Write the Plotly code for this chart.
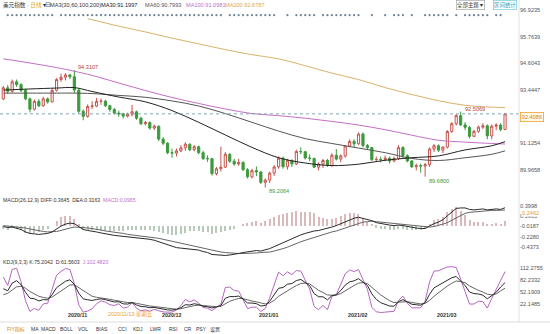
import plotly.graph_objects as go

W, H = 550, 334

# ---------------- data ----------------
dates = ["2020-10-13","2020-10-14","2020-10-15","2020-10-16","2020-10-19","2020-10-20","2020-10-21","2020-10-22","2020-10-23","2020-10-26",
         "2020-10-27","2020-10-28","2020-10-29","2020-10-30","2020-11-02","2020-11-03","2020-11-04","2020-11-05","2020-11-06","2020-11-09",
         "2020-11-10","2020-11-11","2020-11-12","2020-11-13","2020-11-16","2020-11-17","2020-11-18","2020-11-19","2020-11-20","2020-11-23",
         "2020-11-24","2020-11-25","2020-11-26","2020-11-27","2020-11-30","2020-12-01","2020-12-02","2020-12-03","2020-12-04","2020-12-07",
         "2020-12-08","2020-12-09","2020-12-10","2020-12-11","2020-12-14","2020-12-15","2020-12-16","2020-12-17","2020-12-18","2020-12-21",
         "2020-12-22","2020-12-23","2020-12-24","2020-12-28","2020-12-29","2020-12-30","2020-12-31","2021-01-04","2021-01-05","2021-01-06",
         "2021-01-07","2021-01-08","2021-01-11","2021-01-12","2021-01-13","2021-01-14","2021-01-15","2021-01-18","2021-01-19","2021-01-20",
         "2021-01-21","2021-01-22","2021-01-25","2021-01-26","2021-01-27","2021-01-28","2021-01-29","2021-02-01","2021-02-02","2021-02-03",
         "2021-02-04","2021-02-05","2021-02-08","2021-02-09","2021-02-10","2021-02-11","2021-02-12","2021-02-15","2021-02-16","2021-02-17",
         "2021-02-18","2021-02-19","2021-02-22","2021-02-23","2021-02-24","2021-02-25","2021-02-26","2021-03-01","2021-03-02","2021-03-03",
         "2021-03-04","2021-03-05","2021-03-08","2021-03-09","2021-03-10","2021-03-11","2021-03-12","2021-03-15","2021-03-16","2021-03-17",
         "2021-03-18","2021-03-19","2021-03-22","2021-03-23"]

opens = [93.06,93.54,93.39,93.80,93.68,93.43,93.06,92.61,92.95,92.76,
         93.06,92.93,93.43,93.90,94.00,94.10,94.02,93.44,92.52,92.30,
         92.73,92.75,92.95,92.96,92.76,92.60,92.44,92.41,92.31,92.39,
         92.50,92.22,91.98,92.03,91.79,91.87,91.31,91.13,90.72,90.70,
         90.80,90.93,91.09,90.85,90.98,90.72,90.46,90.46,89.81,90.02,
         90.09,90.65,90.35,90.23,90.29,89.98,89.67,89.94,89.88,89.43,
         89.53,89.83,90.10,90.48,90.11,90.39,90.23,90.77,90.76,90.49,
         90.47,90.09,90.23,90.38,90.16,90.61,90.44,90.58,91.01,91.21,
         91.11,91.53,91.03,90.94,90.42,90.43,90.42,90.48,90.36,90.47,
         90.94,90.59,90.36,90.11,90.15,90.14,90.20,90.88,91.02,90.83,
         90.96,91.64,91.98,92.33,91.93,91.82,91.43,91.65,91.83,91.89,
         91.45,91.87,91.92,91.73]
highs = [93.62,93.66,93.90,93.90,93.74,93.50,93.12,93.03,93.05,93.15,
         93.12,93.52,93.96,94.16,94.18,94.14,94.3107,93.52,92.60,92.82,
         92.96,93.10,93.08,93.02,92.80,92.66,92.55,92.45,92.46,92.80,
         92.55,92.28,92.10,92.08,91.95,91.90,91.40,91.18,90.90,90.90,
         91.05,91.17,91.12,91.05,91.02,90.80,90.60,90.50,90.10,90.98,
         90.75,90.70,90.45,90.45,90.35,90.05,90.02,90.12,89.93,89.60,
         89.90,90.18,90.56,90.55,90.45,90.42,90.85,90.95,90.80,90.65,
         90.50,90.30,90.45,90.45,90.70,90.88,90.65,91.05,91.30,91.30,
         91.60,91.60,91.10,90.98,90.55,90.55,90.60,90.55,90.55,91.05,
         91.00,90.65,90.40,90.25,90.25,90.28,90.95,91.10,91.08,91.00,
         91.70,92.05,92.40,92.5069,92.05,91.88,91.72,91.90,92.00,91.95,
         91.95,92.00,92.00,92.45]
lows = [93.00,93.28,93.33,93.58,93.36,93.00,92.47,92.55,92.70,92.72,
        92.85,92.90,93.38,93.80,93.86,93.92,93.30,92.42,92.13,92.24,
        92.62,92.70,92.80,92.70,92.50,92.38,92.28,92.20,92.25,92.30,
        92.15,91.92,91.90,91.72,91.70,91.22,91.05,90.65,90.50,90.55,
        90.75,90.80,90.78,90.78,90.65,90.40,90.32,89.72,89.73,89.90,
        90.05,90.28,90.15,90.15,89.92,89.60,89.60,89.70,89.36,89.2064,
        89.40,89.70,90.02,90.02,89.98,90.10,90.18,90.65,90.42,90.35,
        90.05,89.95,90.05,90.10,90.10,90.38,90.30,90.50,90.95,90.95,
        91.05,90.95,90.85,90.35,90.35,90.30,90.35,90.25,90.30,90.40,
        90.50,90.30,90.05,89.95,89.85,89.68,90.10,90.75,90.75,90.70,
        90.90,91.58,91.90,91.88,91.70,91.35,91.40,91.58,91.75,91.30,
        91.30,91.70,91.65,91.70]
closes = [93.54,93.39,93.80,93.68,93.43,93.06,92.61,92.95,92.76,93.06,
          92.93,93.43,93.90,94.00,94.10,94.02,93.44,92.52,92.30,92.73,
          92.75,92.95,92.96,92.76,92.60,92.44,92.41,92.31,92.39,92.50,
          92.22,91.98,92.03,91.79,91.87,91.31,91.13,90.72,90.70,90.80,
          90.93,91.09,90.85,90.98,90.72,90.46,90.46,89.81,90.02,90.09,
          90.65,90.35,90.23,90.29,89.98,89.67,89.94,89.88,89.43,89.53,
          89.83,90.10,90.48,90.11,90.39,90.23,90.77,90.76,90.49,90.47,
          90.09,90.23,90.38,90.16,90.61,90.44,90.58,91.01,91.21,91.11,
          91.53,91.03,90.94,90.42,90.43,90.42,90.48,90.36,90.47,90.94,
          90.59,90.36,90.11,90.15,90.14,90.20,90.88,91.02,90.83,90.96,
          91.64,91.98,92.33,91.93,91.82,91.43,91.65,91.83,91.89,91.45,
          91.87,91.92,91.73,92.4086]

# moving averages at sample positions
ma_idx = [0, 6, 12, 16, 20, 26, 32, 38, 44, 50, 56, 62, 68, 74, 80, 86, 92, 98, 104, 110, 113]
ma30 = [93.44,93.49,93.53,93.55,93.38,93.14,92.93,92.55,92.04,91.49,90.95,90.50,90.27,90.16,90.22,90.39,90.50,90.58,90.84,91.02,91.1997]
ma60 = [93.31,93.31,93.31,93.31,93.29,93.21,93.13,92.97,92.75,92.42,92.04,91.66,91.33,91.12,90.92,90.72,90.47,90.38,90.50,90.65,90.7993]
ma100 = [94.80,94.62,94.42,94.26,94.08,93.75,93.42,93.12,92.86,92.62,92.42,92.33,92.22,92.08,91.92,91.72,91.48,91.26,91.18,91.12,91.0981]
ma200_idx = [19, 26, 32, 38, 44, 50, 56, 62, 68, 74, 80, 86, 92, 98, 104, 110, 113]
ma200 = [96.55,96.22,95.97,95.70,95.45,95.20,94.98,94.80,94.50,94.18,93.90,93.55,93.25,92.98,92.78,92.70,92.6787]

# MACD(26,12,9)
diff = [-0.02,-0.04,-0.03,-0.05,-0.08,-0.13,-0.16,-0.17,-0.18,-0.17,
        -0.16,-0.13,-0.07,-0.01,0.03,0.05,0.04,-0.02,-0.08,-0.10,
        -0.11,-0.13,-0.15,-0.17,-0.19,-0.20,-0.21,-0.22,-0.23,-0.24,
        -0.24,-0.25,-0.27,-0.28,-0.30,-0.33,-0.36,-0.39,-0.42,-0.45,
        -0.46,-0.47,-0.47,-0.48,-0.50,-0.53,-0.55,-0.59,-0.60,-0.61,
        -0.61,-0.60,-0.59,-0.57,-0.55,-0.54,-0.52,-0.51,-0.52,-0.50,
        -0.47,-0.43,-0.39,-0.35,-0.31,-0.26,-0.22,-0.19,-0.16,-0.13,
        -0.11,-0.10,-0.08,-0.06,-0.03,0.00,0.04,0.08,0.12,0.15,
        0.17,0.15,0.12,0.10,0.06,0.04,0.03,0.01,0.00,0.01,
        0.00,-0.02,-0.04,-0.05,-0.06,-0.06,-0.01,0.04,0.07,0.12,
        0.20,0.28,0.35,0.36,0.36,0.33,0.32,0.33,0.34,0.32,
        0.33,0.34,0.33,0.3645]
dea = [0.00,-0.01,-0.01,-0.02,-0.03,-0.05,-0.07,-0.09,-0.11,-0.12,
       -0.13,-0.13,-0.12,-0.10,-0.07,-0.05,-0.03,-0.03,-0.04,-0.05,
       -0.06,-0.08,-0.09,-0.11,-0.12,-0.14,-0.15,-0.16,-0.18,-0.19,
       -0.20,-0.21,-0.22,-0.23,-0.24,-0.26,-0.28,-0.30,-0.32,-0.35,
       -0.37,-0.39,-0.41,-0.42,-0.44,-0.46,-0.48,-0.50,-0.52,-0.54,
       -0.55,-0.56,-0.56,-0.57,-0.57,-0.57,-0.56,-0.56,-0.55,-0.55,
       -0.54,-0.52,-0.50,-0.47,-0.44,-0.40,-0.37,-0.33,-0.30,-0.27,
       -0.24,-0.21,-0.19,-0.16,-0.13,-0.11,-0.08,-0.05,-0.01,0.02,
       0.05,0.07,0.08,0.09,0.08,0.07,0.06,0.05,0.04,0.04,
       0.03,0.02,0.01,-0.01,-0.02,-0.03,-0.03,-0.02,0.00,0.03,
       0.06,0.11,0.16,0.21,0.25,0.27,0.28,0.29,0.30,0.30,
       0.31,0.31,0.31,0.3163]
macd_hist = [-0.06,-0.08,-0.04,-0.06,-0.10,-0.16,-0.18,-0.16,-0.14,-0.10,
             -0.06,0.00,0.10,0.18,0.20,0.20,0.14,0.02,-0.08,-0.10,
             -0.10,-0.10,-0.12,-0.12,-0.14,-0.12,-0.12,-0.12,-0.10,-0.10,
             -0.08,-0.08,-0.10,-0.10,-0.12,-0.14,-0.16,-0.18,-0.20,-0.20,
             -0.18,-0.16,-0.12,-0.12,-0.12,-0.14,-0.14,-0.18,-0.16,-0.14,
             -0.12,-0.08,-0.06,0.00,0.04,0.06,0.08,0.10,0.06,0.10,
             0.14,0.18,0.22,0.24,0.26,0.28,0.30,0.28,0.28,0.28,
             0.26,0.18,0.15,0.13,0.13,0.15,0.20,0.24,0.26,0.26,
             0.24,0.16,0.08,0.02,-0.04,-0.06,-0.06,-0.08,-0.08,-0.06,
             -0.06,-0.08,-0.10,-0.08,-0.08,-0.06,0.04,0.12,0.14,0.18,
             0.28,0.34,0.38,0.30,0.22,0.12,0.08,0.08,0.08,0.04,
             0.04,0.06,0.04,0.0965]

# KDJ(9,3,3)
k_vals = [60,55,74,80,70.3,50.9,36.6,35.1,29.7,33.1,
          32.4,45.6,62.7,71.1,78.7,82.2,70.8,48.5,35.0,32.6,
          31.0,33.4,35.0,33.0,29.3,27.2,27.8,22.5,22.0,25.7,
          19.8,15.9,15.3,12.9,13.6,11.4,9.3,7.5,7.0,8.7,
          13.1,20.4,19.6,22.8,20.9,16.6,15.4,12.3,14.9,18.2,
          36.4,40.6,40.4,41.9,34.6,24.8,24.5,23.0,17.3,18.5,
          29.0,44.3,61.2,63.1,71.4,72.9,80.3,83.2,76.5,67.7,
          48.1,40.1,40.0,32.4,42.9,44.9,55.6,69.1,77.1,79.7,
          85.1,77.7,68.1,47.4,33.6,25.4,21.6,17.1,16.7,28.1,
          33.0,26.7,21.5,20.3,19.2,25.5,46.3,62.2,68.5,75.7,
          82.5,87.3,90.5,80,68,52,48,47,44,35,
          42,51,64.3,75.2042]
d_vals = [45.3,48.5,57.0,64.7,66.5,61.3,53.1,47.1,41.3,38.5,
          36.5,39.5,47.2,55.2,63.0,69.4,69.9,62.8,53.6,46.6,
          41.4,38.7,37.5,36.0,33.8,31.6,30.3,27.7,25.8,25.8,
          23.8,21.2,19.2,17.1,15.9,14.4,12.7,11.0,9.6,9.3,
          10.6,13.9,15.8,18.1,19.1,18.2,17.2,15.6,15.4,16.4,
          23.0,28.8,32.7,35.8,35.4,31.9,29.5,27.4,24.1,22.3,
          24.6,31.2,41.2,48.5,56.1,61.7,67.9,73.0,74.2,72.1,
          64.1,56.1,50.7,44.6,44.0,44.3,48.0,55.0,62.4,68.2,
          73.9,75.2,72.8,64.3,54.1,44.6,36.9,30.3,25.8,26.6,
          28.7,28.0,25.9,24.1,22.5,23.5,31.1,41.4,50.4,58.8,
          66.7,73.6,79.3,78,75,67,61,56,52,46.5,
          45,47,54.7,61.5603]
j_vals = [89.4,68,108,110.6,77.9,30.1,3.6,11.1,6.5,22.3,
          24.2,57.8,93.7,102.9,110.1,107.8,72.6,19.9,2,4.6,
          10.2,22.8,30,27,20.3,18.4,22.8,12.1,14.4,25.5,
          11.8,5.3,7.5,4.5,9.0,5.4,2.5,2,2,7.5,
          18.1,33.4,27.2,32.2,24.5,13.4,11.8,5.7,13.9,21.8,
          63.2,64.2,55.8,54.1,33.0,10.6,14.5,14.2,3.7,10.9,
          37.8,70.5,101.2,92.3,102.0,95.3,105.1,103.6,81.1,58.9,
          16.1,8.1,18.6,8.0,40.7,46.1,70.8,97.3,106.5,102.7,
          107.5,82.7,58.7,13.6,3,1,2,2,4,31.1,
          41.6,24.1,12.7,12.7,12.6,29.5,76.7,103.8,104.7,109.5,
          114.1,114.7,112.9,84,54,22,22,29,28,12,
          36,59,83.5,102.482]

# event-marker row along the top of the price panel
event_idx = list(range(1, 12)) + list(range(13, 50)) + list(range(51, 62)) + \
            [64, 66, 67, 68, 69, 70, 72, 73, 74, 75, 76, 77, 78, 79, 80, 83, 86, 88, 89, 90, 92,
             95, 96, 97, 98, 99, 100, 102, 104, 105, 106, 107, 108, 109, 111, 112]

price_ticks = [96.9235, 95.7639, 94.6043, 93.4447, 91.1254, 89.9658]
macd_ticks = [0.3998, 0.1905, -0.0187, -0.2280, -0.4373]
kdj_ticks = [112.2755, 82.2332, 52.1909, 22.1485]
month_idx = [14, 35, 57, 77, 97]
month_labels = ["2020/11", "2020/12", "2021/01", "2021/02", "2021/03"]
tabs = ["FIY指标", "MA", "MACD", "BOLL", "VOL", "BIAS", "CCI", "KDJ", "LWR", "RSI", "CR", "PSY", "设置"]
tab_px = [16, 35, 48, 66, 83, 102, 122, 138, 155, 173, 188, 201, 215]

# ---------------- layout helpers ----------------
def pxx(p):
    return p / W

def pxy(p):
    return 1 - p / H

XR = pxx(519)
FONT = "Liberation Sans, Arial, Noto Sans CJK SC, sans-serif"
idx = list(range(len(closes)))

fig = go.Figure()

fig.add_trace(go.Candlestick(
    x=idx, open=opens, high=highs, low=lows, close=closes,
    increasing=dict(line=dict(color="#c8524e", width=1), fillcolor="#ffffff"),
    decreasing=dict(line=dict(color="#3c9a3c", width=1), fillcolor="#3c9a3c"),
    whiskerwidth=0, showlegend=False, hoverinfo="skip", xaxis="x", yaxis="y"))

for xs, ys, col in [(ma200_idx, ma200, "#d9b26a"), (ma_idx, ma100, "#c46ec8"),
                    (ma_idx, ma60, "#555555"), (ma_idx, ma30, "#222222")]:
    fig.add_trace(go.Scatter(x=xs, y=ys, mode="lines", line=dict(color=col, width=1, shape="spline"),
                             showlegend=False, hoverinfo="skip", xaxis="x", yaxis="y"))

fig.add_trace(go.Scatter(x=event_idx, y=[96.70] * len(event_idx), mode="markers",
                         marker=dict(size=2.2, color="#6f8396"), showlegend=False,
                         hoverinfo="skip", xaxis="x", yaxis="y"))

# MACD panel
fig.add_trace(go.Bar(x=idx, y=macd_hist, width=0.24,
                     marker=dict(color=["#d9b9bb" if v >= 0 else "#b9c9b9" for v in macd_hist], line=dict(width=0)),
                     showlegend=False, hoverinfo="skip", xaxis="x", yaxis="y2"))
fig.add_trace(go.Scatter(x=idx, y=dea, mode="lines", line=dict(color="#666666", width=1),
                         showlegend=False, hoverinfo="skip", xaxis="x", yaxis="y2"))
fig.add_trace(go.Scatter(x=idx, y=diff, mode="lines", line=dict(color="#2a2a2a", width=1),
                         showlegend=False, hoverinfo="skip", xaxis="x", yaxis="y2"))

# KDJ panel
fig.add_trace(go.Scatter(x=idx, y=j_vals, mode="lines", line=dict(color="#b466c0", width=1),
                         showlegend=False, hoverinfo="skip", xaxis="x", yaxis="y3"))
fig.add_trace(go.Scatter(x=idx, y=d_vals, mode="lines", line=dict(color="#666666", width=1),
                         showlegend=False, hoverinfo="skip", xaxis="x", yaxis="y3"))
fig.add_trace(go.Scatter(x=idx, y=k_vals, mode="lines", line=dict(color="#2a2a2a", width=1),
                         showlegend=False, hoverinfo="skip", xaxis="x", yaxis="y3"))

tickfont = dict(family=FONT, size=5.6, color="#555555")
yax_common = dict(side="right", anchor="x", showgrid=False, zeroline=False, showline=False,
                  ticks="", tickfont=tickfont, fixedrange=True)

fig.update_layout(
    width=W, height=H, margin=dict(l=0, r=0, t=0, b=0),
    paper_bgcolor="white", plot_bgcolor="white", bargap=0,
    xaxis=dict(domain=[0, XR], range=[-0.743, 116.14], showgrid=False, zeroline=False,
               showticklabels=False, ticks="", showline=False, rangeslider=dict(visible=False)),
    yaxis=dict(domain=[pxy(191), pxy(3)], range=[89.054, 97.228], tickvals=price_ticks,
               ticktext=[f"{v:.4f}" for v in price_ticks], **yax_common),
    yaxis2=dict(domain=[pxy(256), pxy(204)], range=[-0.621, 0.4406], tickvals=macd_ticks,
                ticktext=[f"{v:.4f}" for v in macd_ticks], **yax_common),
    yaxis3=dict(domain=[pxy(315), pxy(264)], range=[-5.15, 121.46], tickvals=kdj_ticks,
                ticktext=[f"{v:.4f}" for v in kdj_ticks], **yax_common),
    showlegend=False,
)

shapes = []
shapes.append(dict(type="line", xref="paper", yref="y", x0=0, x1=XR, y0=closes[-1], y1=closes[-1],
                   line=dict(color="#7fa9b8", width=1, dash="dot")))
shapes.append(dict(type="line", xref="paper", yref="paper", x0=XR, x1=XR, y0=pxy(322), y1=1,
                   line=dict(color="#e2e2e2", width=1)))
shapes.append(dict(type="line", xref="paper", yref="paper", x0=0, x1=1, y0=pxy(322), y1=pxy(322),
                   line=dict(color="#dddddd", width=1)))
fig.update_layout(shapes=shapes)

ann = []
def text(xp, yp, s, color="#333333", size=5.6, anchor="left", **kw):
    d = dict(x=pxx(xp), y=pxy(yp), xref="paper", yref="paper", text=s, showarrow=False,
             xanchor=anchor, yanchor="middle", font=dict(family=FONT, size=size, color=color))
    d.update(kw)
    ann.append(d)

# header
text(1, 5, "美元指数 · <span style='color:#e2a12a'>日线</span> ▾", "#333333", 5.6)
text(43, 5, "⊟", "#4a5a8a", 6.5)
text(48, 5, "MA3(30,60,100,200)", "#333333")
text(99, 5, f"MA30:{ma30[-1]:.4f}", "#222222")
text(143, 5, f"MA60:{ma60[-1]:.4f}", "#555555")
text(184, 5, f"MA100:{ma100[-1]:.4f}", "#c46ec8")
text(223, 5, f"MA200:{ma200[-1]:.4f}", "#d9a850")
text(470, 5, "全部主题▼", "#333333", 5.4, anchor="center", bordercolor="#999999", borderwidth=0.6, borderpad=0.5)
text(505, 5, "区间统计", "#3aa0c0", 5.4, anchor="center", bordercolor="#5bbfdc", borderwidth=0.6, borderpad=0.5)

# panel headers
text(1, 200, f"MACD(26,12,9) DIFF:{diff[-1]:.4f}  DEA:{dea[-1]:.4f}  "
     f"<span style='color:#c46ec8'>MACD:{macd_hist[-1]:.4f}</span>", "#333333", 5.2)
text(1, 262, f"KDJ(9,3,3) K:{k_vals[-1]:.4f}  D:{d_vals[-1]:.4f}  "
     f"<span style='color:#c46ec8'>J:{j_vals[-1]:.4f}</span>", "#333333", 5.2)

# current price box
ann.append(dict(x=XR, y=closes[-1], xref="paper", yref="y", text=f"{closes[-1]:.4f}", showarrow=False,
                xanchor="left", yanchor="middle", yshift=-3, xshift=1,
                font=dict(family=FONT, size=5.6, color="#d08a20"),
                bgcolor="#fff8e6", bordercolor="#f0a030", borderwidth=0.8, borderpad=1))
# MACD current marker value
ann.append(dict(x=XR, y=0.2462, xref="paper", yref="y2", text="0.2462", showarrow=False,
                xanchor="left", yanchor="middle", xshift=2, yshift=1,
                font=dict(family=FONT, size=5.6, color="#e0a030"), bgcolor="white", borderpad=0))

# extreme labels
hi1 = max(range(0, 40), key=lambda i: highs[i])
hi2 = max(range(90, len(highs)), key=lambda i: highs[i])
lo1 = min(range(0, len(lows)), key=lambda i: lows[i])
lo2 = min(range(80, len(lows)), key=lambda i: lows[i])
for i, v, col, ys in [(hi1, highs[hi1], "#b8403a", 3), (hi2, highs[hi2], "#b8403a", 3),
                      (lo1, lows[lo1], "#3a9a3a", -4), (lo2, lows[lo2], "#3a9a3a", -4)]:
    ann.append(dict(x=i, y=v, xref="x", yref="y", text=f"{v:.4f}", showarrow=False,
                    xanchor="left", yanchor="middle", xshift=2, yshift=ys,
                    font=dict(family=FONT, size=5.6, color=col)))

# month labels
for i, lab in zip(month_idx, month_labels):
    ann.append(dict(x=i, y=pxy(314.5), xref="x", yref="paper", text=f"<b>{lab}</b>", showarrow=False,
                    xanchor="left", yanchor="middle", xshift=1,
                    font=dict(family=FONT, size=5.4, color="#333333")))
cross_i = dates.index("2020-11-13")
ann.append(dict(x=cross_i, y=pxy(314.5), xref="x", yref="paper", text="2020/11/13 星期五", showarrow=False,
                xanchor="left", yanchor="middle", xshift=1,
                font=dict(family=FONT, size=5.4, color="#f0a030")))

# bottom tabs
for lab, xp in zip(tabs, tab_px):
    text(xp, 329, lab, "#d08020" if lab == tabs[0] else "#333333", 5.0, anchor="center")

fig.update_layout(annotations=ann)

fig.write_html("out.html")
